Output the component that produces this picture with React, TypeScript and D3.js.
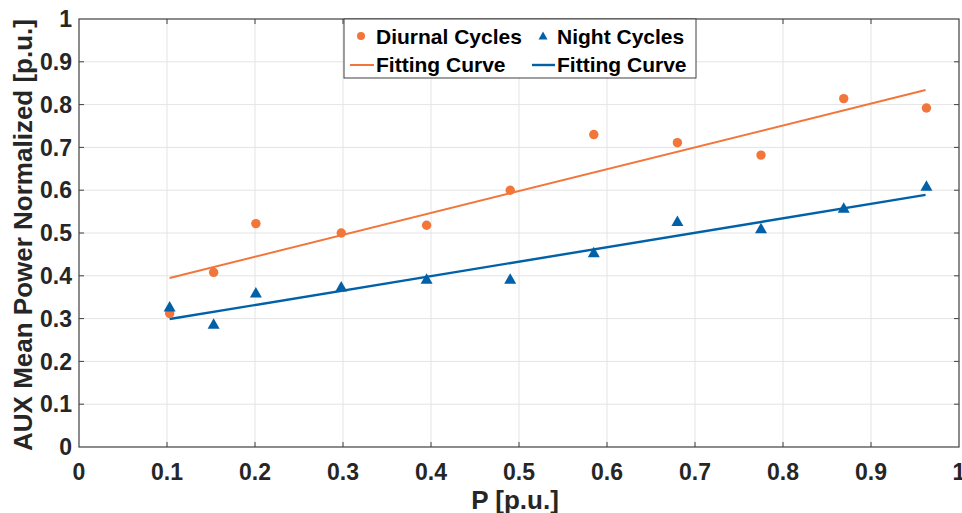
import React from 'react';
import * as d3 from 'd3';

const width = 962;
const height = 513;

// P [p.u.] sample positions
const pValues = [0.103, 0.153, 0.201, 0.298, 0.395, 0.49, 0.585, 0.68, 0.775, 0.869, 0.963];
const diurnal = [0.312, 0.408, 0.522, 0.5, 0.518, 0.6, 0.73, 0.711, 0.682, 0.814, 0.792];
const night = [0.327, 0.287, 0.36, 0.374, 0.392, 0.392, 0.454, 0.527, 0.51, 0.558, 0.609];

// fitted lines, start / end
const fitX = [0.103, 0.962];
const fitDiurnal = [0.395, 0.834];
const fitNight = [0.299, 0.589];

const ticks = [0, 0.1, 0.2, 0.3, 0.4, 0.5, 0.6, 0.7, 0.8, 0.9, 1];

const orange = '#f2753a';
const blue = '#0061a8';
const font = '"Liberation Sans", Arial, sans-serif';

const x = d3.scaleLinear().domain([0, 1]).range([79, 959]);
const y = d3.scaleLinear().domain([0, 1]).range([447, 19]);

const line = d3.line<number>()
  .x((_, i) => x(fitX[i]))
  .y(d => y(d));

const tri = 'M0,-6L6,4.5L-6,4.5Z';
const triSmall = 'M0,-4.5L4.5,3.5L-4.5,3.5Z';
const fmt = (v: number) => (v === 0 || v === 1 ? String(v) : v.toFixed(1));

const App = () => {
  const [x0, x1] = x.range();
  const [y0, y1] = y.range();
  return (
    <svg width={width} height={height} style={{ position: 'absolute', left: 0, top: 0, background: '#fff' }}
      fontFamily={font} fontWeight="bold">
      {/* grid */}
      {ticks.slice(1, -1).map(t => (
        <g key={'g' + t}>
          <line x1={x(t)} x2={x(t)} y1={y0} y2={y1} stroke="#e4e4e4" strokeWidth={1} />
          <line x1={x0} x2={x1} y1={y(t)} y2={y(t)} stroke="#e4e4e4" strokeWidth={1} />
        </g>
      ))}
      {/* ticks, inward on all sides */}
      {ticks.slice(1, -1).map(t => (
        <g key={'t' + t} stroke="#404040" strokeWidth={1}>
          <line x1={x(t)} x2={x(t)} y1={y0} y2={y0 - 5} />
          <line x1={x(t)} x2={x(t)} y1={y1} y2={y1 + 5} />
          <line x1={x0} x2={x0 + 5} y1={y(t)} y2={y(t)} />
          <line x1={x1} x2={x1 - 5} y1={y(t)} y2={y(t)} />
        </g>
      ))}
      <rect x={x0} y={y1} width={x1 - x0} height={y0 - y1} fill="none" stroke="#404040" strokeWidth={1.2} />

      {/* tick labels */}
      {ticks.map(t => (
        <text key={'xl' + t} x={x(t)} y={480} textAnchor="middle" fontSize={23} fill="#262626">{fmt(t)}</text>
      ))}
      {ticks.map(t => (
        <text key={'yl' + t} x={72} y={y(t)} dy="0.36em" textAnchor="end" fontSize={23} fill="#262626">{fmt(t)}</text>
      ))}

      {/* axis titles */}
      <text x={(x0 + x1) / 2 - 4} y={509} textAnchor="middle" fontSize={26} fill="#262626">P [p.u.]</text>
      <text transform={`translate(32,${(y0 + y1) / 2 + 2}) rotate(-90)`} textAnchor="middle" fontSize={26} fill="#262626">
        AUX Mean Power Normalized [p.u.]
      </text>

      {/* fitting curves */}
      <path d={line(fitDiurnal) || ''} fill="none" stroke={orange} strokeWidth={2} />
      <path d={line(fitNight) || ''} fill="none" stroke={blue} strokeWidth={2.4} />

      {/* points */}
      {pValues.map((p, i) => (
        <circle key={'d' + i} cx={x(p)} cy={y(diurnal[i])} r={4.7} fill={orange} />
      ))}
      {pValues.map((p, i) => (
        <path key={'n' + i} d={tri} transform={`translate(${x(p)},${y(night[i])})`} fill={blue} />
      ))}

      {/* legend */}
      <g>
        <rect x={344} y={19} width={352} height={59} fill="#fff" stroke="#404040" strokeWidth={1} />
        <circle cx={361} cy={36} r={4} fill={orange} />
        <text x={376} y={44} fontSize={21} fill="#000">Diurnal Cycles</text>
        <path d={triSmall} transform="translate(543,36)" fill={blue} />
        <text x={557} y={44} fontSize={21} fill="#000">Night Cycles</text>
        <line x1={350} x2={374} y1={65} y2={65} stroke={orange} strokeWidth={2} />
        <text x={376} y={72} fontSize={21} fill="#000">Fitting Curve</text>
        <line x1={532} x2={555} y1={65} y2={65} stroke={blue} strokeWidth={2.4} />
        <text x={557} y={72} fontSize={21} fill="#000">Fitting Curve</text>
      </g>
    </svg>
  );
};

export default App;
